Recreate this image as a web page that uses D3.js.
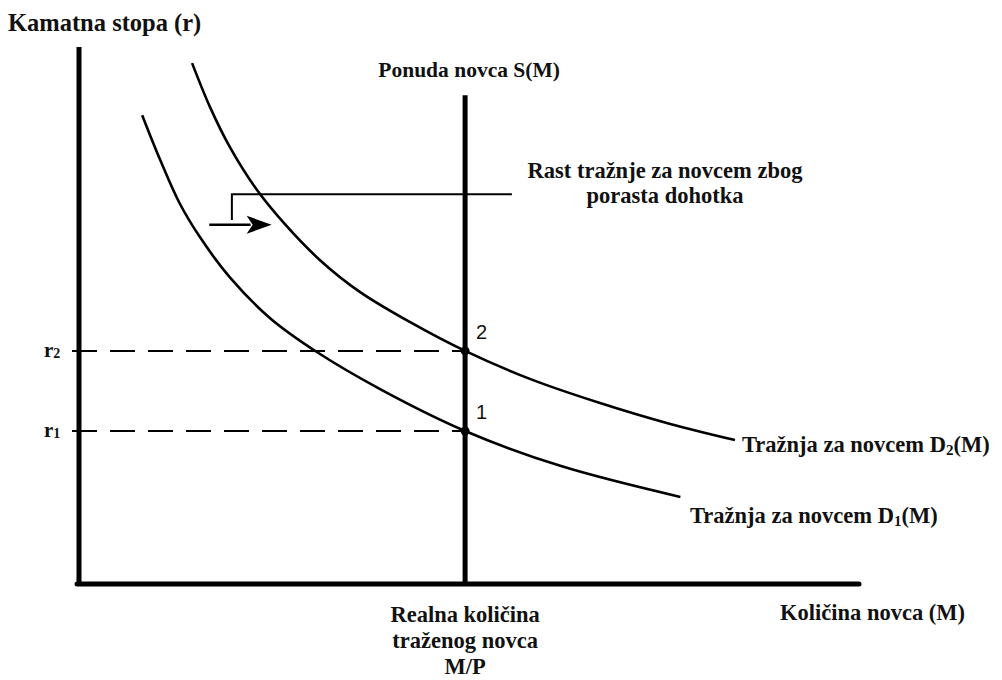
<!DOCTYPE html>
<html>
<head>
<meta charset="utf-8">
<script src="https://cdn.jsdelivr.net/npm/d3@7"></script>
<style>
    html, body { margin: 0; padding: 0; background: #fff; }
    svg text { font-family: "Liberation Serif", "Times New Roman", serif; font-weight: bold; fill: #111; }
    svg text.num { font-family: "Liberation Sans", Arial, sans-serif; font-weight: normal; }
</style>
</head>
<body>
<div id="chart"></div>
<script>
(function () {
    'use strict';

    // quantity of money (x) and interest rate (y)
    var supplyQ = 4.95;
    var rateLevels = [2.85, 4.34];           // r1, r2
    var rateNames = ['1', '2'];

    var d1Q = [0.81, 1.04, 1.29, 1.55, 1.94, 2.45, 3.05, 3.86, 4.95, 6.17, 7.71];
    var d1R = [8.73, 7.90, 7.09, 6.46, 5.70, 4.95, 4.32, 3.63, 2.85, 2.20, 1.62];

    var d2Q = [1.45, 1.68, 1.94, 2.28, 2.64, 3.09, 3.60, 4.24, 4.95, 5.78, 6.68, 7.58, 8.41];
    var d2R = [9.70, 8.88, 8.12, 7.34, 6.70, 6.03, 5.44, 4.88, 4.34, 3.82, 3.37, 2.98, 2.68];

    var width = 1002, height = 680;

    var x = d3.scaleLinear().domain([0, 10]).range([79, 859]);
    var y = d3.scaleLinear().domain([0, 10]).range([584, 47]);

    var svg = d3.select('#chart').append('svg')
        .attr('width', width)
        .attr('height', height);

    // axes
    svg.append('line')
        .attr('x1', x(0)).attr('y1', y(10))
        .attr('x2', x(0)).attr('y2', y(0) + 2)
        .attr('stroke', '#000').attr('stroke-width', 5);
    svg.append('line')
        .attr('x1', x(0) - 2).attr('y1', y(0))
        .attr('x2', x(10)).attr('y2', y(0))
        .attr('stroke', '#000').attr('stroke-width', 5)
        .attr('stroke-linecap', 'round');

    // dashed rate lines
    svg.selectAll('.rate')
        .data(rateLevels)
        .enter().append('line')
        .attr('class', 'rate')
        .attr('x1', x(0) - 7).attr('x2', x(supplyQ))
        .attr('y1', function (d) { return y(d); })
        .attr('y2', function (d) { return y(d); })
        .attr('stroke', '#000').attr('stroke-width', 2)
        .attr('stroke-dasharray', '25,13');

    // money supply
    svg.append('line')
        .attr('x1', x(supplyQ)).attr('y1', y(9.1))
        .attr('x2', x(supplyQ)).attr('y2', y(0))
        .attr('stroke', '#000').attr('stroke-width', 5);

    // demand curves
    var line = d3.line()
        .x(function (d) { return x(d[0]); })
        .y(function (d) { return y(d[1]); })
        .curve(d3.curveCatmullRom.alpha(0.5));

    [d3.zip(d1Q, d1R), d3.zip(d2Q, d2R)].forEach(function (pts) {
        svg.append('path')
            .attr('d', line(pts))
            .attr('fill', 'none')
            .attr('stroke', '#000')
            .attr('stroke-width', 2.6);
    });

    // equilibrium points
    svg.selectAll('.eq')
        .data(rateLevels)
        .enter().append('circle')
        .attr('cx', x(supplyQ))
        .attr('cy', function (d) { return y(d); })
        .attr('r', 4.5)
        .attr('fill', '#000');

    svg.selectAll('.eqlabel')
        .data(rateLevels)
        .enter().append('text')
        .attr('class', 'num')
        .attr('x', x(supplyQ) + 11)
        .attr('y', function (d) { return y(d) - 12; })
        .attr('font-size', 20)
        .text(function (d, i) { return rateNames[i]; });

    // r labels
    var rl = svg.selectAll('.rlabel')
        .data(rateLevels)
        .enter().append('text')
        .attr('x', 44)
        .attr('y', function (d) { return y(d) + 6; })
        .attr('font-size', 21);
    rl.append('tspan').text('r');
    rl.append('tspan').attr('font-size', 14).attr('dy', 1).text(function (d, i) { return rateNames[i]; });

    // shift annotation
    svg.append('path')
        .attr('d', 'M' + x(1.96) + ',' + y(6.78) + 'V' + y(7.26) + 'H' + x(5.55))
        .attr('fill', 'none').attr('stroke', '#000').attr('stroke-width', 2);
    svg.append('line')
        .attr('x1', x(1.67)).attr('y1', y(6.69))
        .attr('x2', x(2.2)).attr('y2', y(6.69))
        .attr('stroke', '#000').attr('stroke-width', 2.5);
    var ax = x(2.47), ay = y(6.69);
    svg.append('path')
        .attr('d', 'M' + ax + ',' + ay + 'L' + (ax - 25) + ',' + (ay - 9) + 'L' + (ax - 19) + ',' + ay +
            'L' + (ax - 25) + ',' + (ay + 9) + 'Z')
        .attr('fill', '#000');

    // texts
    function label(tx, ty, str, anchor, size) {
        return svg.append('text')
            .attr('x', tx).attr('y', ty)
            .attr('font-size', size || 22.5)
            .attr('text-anchor', anchor || 'start')
            .text(str);
    }
    function subLabel(tx, ty, pre, sub, post) {
        var t = svg.append('text').attr('x', tx).attr('y', ty).attr('font-size', 22.5);
        t.append('tspan').text(pre);
        t.append('tspan').attr('font-size', 15).attr('dy', 3).text(sub);
        t.append('tspan').attr('dy', -3).text(post);
        return t;
    }

    label(8, 31, 'Kamatna stopa (r)', 'start', 24.5);
    label(x(supplyQ) + 4, 77, 'Ponuda novca S(M)', 'middle', 21.5);
    label(665, 178, 'Rast tražnje za novcem zbog', 'middle');
    label(665, 203, 'porasta dohotka', 'middle');
    subLabel(742, 452, 'Tražnja za novcem D', '2', '(M)');
    subLabel(690, 523, 'Tražnja za novcem D', '1', '(M)');
    label(x(supplyQ), 622, 'Realna količina', 'middle');
    label(x(supplyQ), 648, 'traženog novca', 'middle');
    label(x(supplyQ), 674, 'M/P', 'middle');
    label(780, 620, 'Količina novca (M)');
})();
</script>
</body>
</html>
